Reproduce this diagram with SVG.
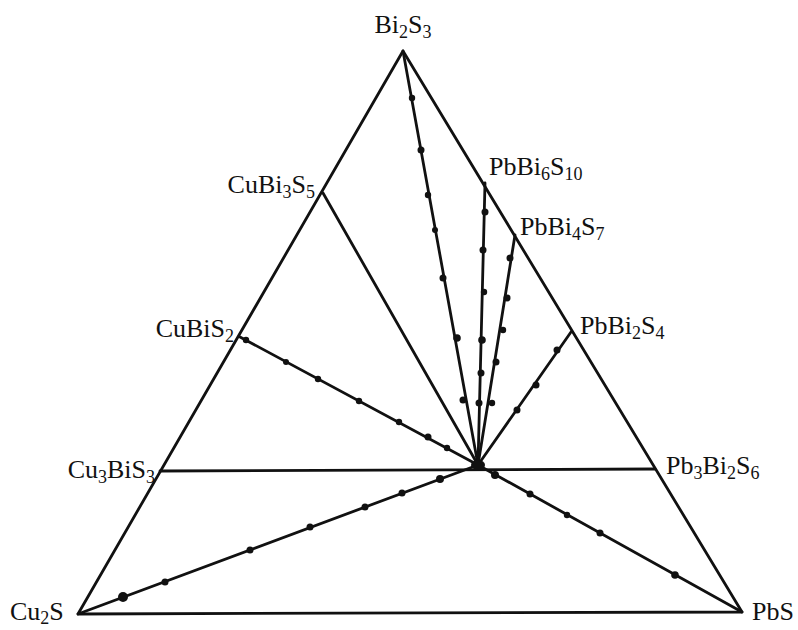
<svg xmlns="http://www.w3.org/2000/svg" width="798" height="630" viewBox="0 0 798 630">
<style>
.edge{stroke:#111;stroke-width:2.8;fill:none;stroke-linecap:round;stroke-linejoin:round}
.tie{stroke:#111;stroke-width:2.8;fill:none;stroke-linecap:round}
.dot{fill:#111}
.lbl{font-family:"Liberation Serif","Times New Roman",serif;font-size:26px;fill:#111}
.sub{font-size:18px}
</style>
<rect width="798" height="630" fill="#fff"/>
<g id="connectors">
<polygon class="edge" points="403,51 78,614 742,612"/>
<line class="tie" x1="160" y1="471" x2="655" y2="469"/>
<line class="tie" x1="403" y1="51" x2="478" y2="465"/>
<line class="tie" x1="485" y1="183" x2="478" y2="465"/>
<line class="tie" x1="515" y1="235" x2="478" y2="465"/>
<line class="tie" x1="571" y1="332" x2="478" y2="465"/>
<line class="tie" x1="323" y1="193" x2="478" y2="465"/>
<line class="tie" x1="240" y1="337" x2="478" y2="465"/>
<line class="tie" x1="78" y1="614" x2="478" y2="465"/>
<line class="tie" x1="742" y1="612" x2="478" y2="465"/>
<ellipse class="dot" cx="478" cy="465" rx="7" ry="5"/>
</g>
<g id="dots">
<circle class="dot" cx="412" cy="98" r="3.2"/>
<circle class="dot" cx="421" cy="150" r="3.5"/>
<circle class="dot" cx="428" cy="195" r="3.2"/>
<circle class="dot" cx="435" cy="230" r="3"/>
<circle class="dot" cx="443" cy="278" r="3.5"/>
<circle class="dot" cx="457" cy="338" r="3.8"/>
<circle class="dot" cx="463" cy="400" r="3.5"/>
<circle class="dot" cx="485" cy="212" r="3.5"/>
<circle class="dot" cx="483" cy="250" r="3.5"/>
<circle class="dot" cx="484" cy="292" r="3.2"/>
<circle class="dot" cx="482" cy="340" r="3.8"/>
<circle class="dot" cx="481" cy="373" r="3.5"/>
<circle class="dot" cx="479" cy="403" r="3.5"/>
<circle class="dot" cx="510" cy="258" r="3.5"/>
<circle class="dot" cx="507" cy="298" r="3.5"/>
<circle class="dot" cx="503" cy="330" r="3.2"/>
<circle class="dot" cx="496" cy="362" r="3.5"/>
<circle class="dot" cx="492" cy="403" r="3.2"/>
<circle class="dot" cx="557" cy="350" r="3.5"/>
<circle class="dot" cx="536" cy="385" r="3.5"/>
<circle class="dot" cx="517" cy="410" r="3.5"/>
<circle class="dot" cx="246" cy="340" r="3.2"/>
<circle class="dot" cx="286" cy="362" r="3"/>
<circle class="dot" cx="318" cy="379" r="3.2"/>
<circle class="dot" cx="359" cy="401" r="3.2"/>
<circle class="dot" cx="399" cy="422" r="3.2"/>
<circle class="dot" cx="428" cy="437" r="3.5"/>
<circle class="dot" cx="447" cy="448" r="3.2"/>
<circle class="dot" cx="123" cy="597" r="5"/>
<circle class="dot" cx="165" cy="582" r="3.5"/>
<circle class="dot" cx="250" cy="550" r="3.5"/>
<circle class="dot" cx="310" cy="527" r="3.5"/>
<circle class="dot" cx="365" cy="507" r="3.5"/>
<circle class="dot" cx="402" cy="493" r="3.5"/>
<circle class="dot" cx="440" cy="479" r="4"/>
<circle class="dot" cx="495" cy="475" r="4"/>
<circle class="dot" cx="530" cy="494" r="3.5"/>
<circle class="dot" cx="567" cy="515" r="3.2"/>
<circle class="dot" cx="600" cy="533" r="3.5"/>
<circle class="dot" cx="675" cy="575" r="3.8"/>
</g>
<g id="Bi2S3"><text class="lbl" x="403" y="33" text-anchor="middle">Bi<tspan class="sub" dy="5">2</tspan><tspan dy="-5">S</tspan><tspan class="sub" dy="5">3</tspan></text></g>
<g id="CuBi3S5"><text class="lbl" x="315" y="193" text-anchor="end">CuBi<tspan class="sub" dy="5">3</tspan><tspan dy="-5">S</tspan><tspan class="sub" dy="5">5</tspan></text></g>
<g id="CuBiS2"><text class="lbl" x="234" y="337" text-anchor="end">CuBiS<tspan class="sub" dy="5">2</tspan></text></g>
<g id="Cu3BiS3"><text class="lbl" x="155" y="478" text-anchor="end">Cu<tspan class="sub" dy="5">3</tspan><tspan dy="-5">BiS</tspan><tspan class="sub" dy="5">3</tspan></text></g>
<g id="Cu2S"><text class="lbl" x="10" y="620">Cu<tspan class="sub" dy="4">2</tspan><tspan dy="-4">S</tspan></text></g>
<g id="PbBi6S10"><text class="lbl" x="489" y="175">PbBi<tspan class="sub" dy="5">6</tspan><tspan dy="-5">S</tspan><tspan class="sub" dy="5">10</tspan></text></g>
<g id="PbBi4S7"><text class="lbl" x="520" y="235">PbBi<tspan class="sub" dy="5">4</tspan><tspan dy="-5">S</tspan><tspan class="sub" dy="5">7</tspan></text></g>
<g id="PbBi2S4"><text class="lbl" x="580" y="334">PbBi<tspan class="sub" dy="5">2</tspan><tspan dy="-5">S</tspan><tspan class="sub" dy="5">4</tspan></text></g>
<g id="Pb3Bi2S6"><text class="lbl" x="666" y="474">Pb<tspan class="sub" dy="5">3</tspan><tspan dy="-5">Bi</tspan><tspan class="sub" dy="5">2</tspan><tspan dy="-5">S</tspan><tspan class="sub" dy="5">6</tspan></text></g>
<g id="PbS"><text class="lbl" x="752" y="620">PbS</text></g>
</svg>
